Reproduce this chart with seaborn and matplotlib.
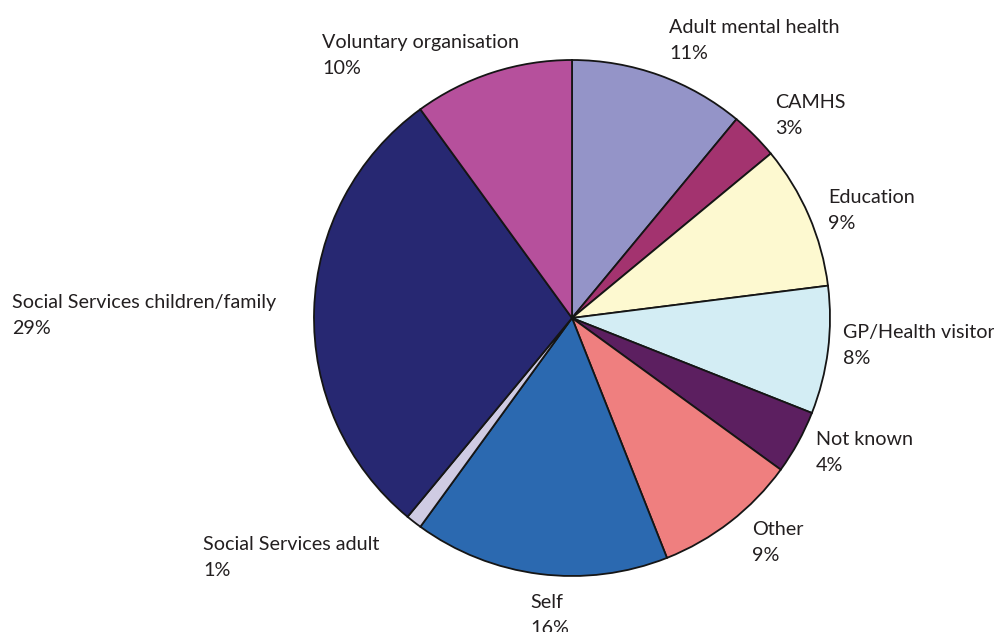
import matplotlib
matplotlib.use("Agg")
import matplotlib.pyplot as plt
import seaborn as sns

# ---- data ----
categories = ["Adult mental health", "CAMHS", "Education", "GP/Health visitor",
              "Not known", "Other", "Self", "Social Services adult",
              "Social Services children/family", "Voluntary organisation"]
percentages = [11, 3, 9, 8, 4, 9, 16, 1, 29, 10]
colors = ["#9494C8", "#A3336F", "#FDF9D0", "#D3EDF4", "#5C1F60",
          "#EF7F7F", "#2B69B0", "#CFCBE3", "#272872", "#B6509C"]

# ---- layout (label baseline positions in pixels, left aligned) ----
label_pos_px = [(669, 33), (775, 108), (828, 203), (843, 338), (816, 445),
                (752, 535), (530, 608), (203, 550), (12, 308), (322, 48)]
line_gap_px = 26

W, H = 994, 632
cx, cy, R = 572, 318, 258

sns.set_theme(style="white")
plt.rcParams['font.family'] = ['Lato', 'DejaVu Sans']

fig = plt.figure(figsize=(W / 100, H / 100), dpi=100)
ax = fig.add_axes([0, 0, 1, 1])
palette = sns.color_palette(colors)

ax.pie(percentages, colors=palette, startangle=90, counterclock=False,
       radius=1.0, center=(0, 0),
       wedgeprops=dict(edgecolor="#151515", linewidth=1.3))
ax.set_xlim(-cx / R, (W - cx) / R)
ax.set_ylim(-(H - cy) / R, cy / R)
ax.axis("off")

for name, pct, (px, py) in zip(categories, percentages, label_pos_px):
    fig.text(px / W, 1 - py / H, name, ha="left", va="baseline",
             fontsize=14.2, color="#231F20")
    fig.text(px / W, 1 - (py + line_gap_px) / H, f"{pct}%", ha="left",
             va="baseline", fontsize=14.2, color="#231F20")

fig.savefig("out.png", dpi=100, facecolor="white")
